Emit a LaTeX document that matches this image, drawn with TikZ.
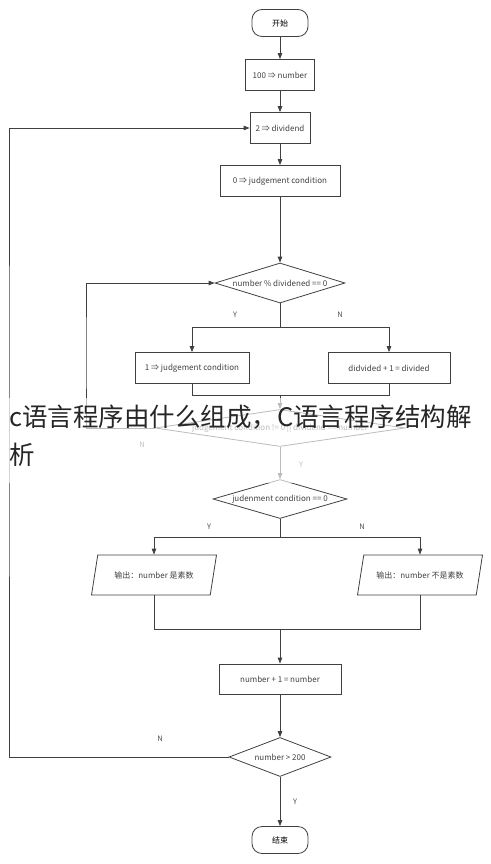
\documentclass[tikz,border=0pt]{standalone}
\usepackage{fontspec}
\setmainfont{Noto Sans CJK SC}
\usetikzlibrary{shapes.geometric,arrows.meta}

\begin{document}
\begin{tikzpicture}[x=1pt,y=-1pt,
    line/.style={draw=black!75,line width=0.8pt},
    arrow/.style={line,-{Triangle[length=6pt,width=4.5pt]}},
    term/.style={
        rectangle,rounded corners=10pt,draw=black!75,line width=0.8pt,
        minimum width=56pt,minimum height=27pt,
        font=\fontsize{8}{9}\selectfont
    },
    proc/.style={
        rectangle,draw=black!75,line width=0.8pt,
        minimum height=31pt,inner sep=2pt,
        font=\fontsize{8}{9}\selectfont,text=black!75
    },
    dec/.style={
        diamond,aspect=4,draw=black!75,line width=0.8pt,inner sep=0pt,
        minimum height=40pt,
        font=\fontsize{8}{9}\selectfont,text=black!75
    },
    io/.style={
        trapezium,trapezium left angle=66,trapezium right angle=114,
        trapezium stretches body,draw=black!75,line width=0.8pt,
        minimum width=125pt,minimum height=40pt,
        font=\fontsize{8}{9}\selectfont,text=black!75
    },
    lbl/.style={font=\fontsize{7.5}{9}\selectfont,text=black!70}
    ]
    \useasboundingbox (0,0) rectangle (490,864);

    \node [term] (start) at (280,23) {开始};
    \node [proc, minimum width=69pt] (init) at (280,75) {100 ⇒ number};
    \node [proc, minimum width=60pt] (div) at (280,128) {2 ⇒ dividend};
    \node [proc, minimum width=120pt] (judge) at (280,181) {0 ⇒ judgement condition};
    \node [dec, minimum width=130pt] (mod) at (280,283) {number \% dividened == 0};

    \node [proc, minimum width=114pt] (yes) at (192,368) {1 ⇒ judgement condition};
    \node [proc, minimum width=122pt] (next) at (389,368) {didvided + 1 = divided};

    \node [dec, aspect=7, minimum width=250pt, minimum height=37pt] (stop) at (280,428)
        {judgement condition != 0 || dividend == number};
    \node [dec, minimum width=134pt, minimum height=39pt] (prime) at (280,499) {judenment condition == 0};

    \node [io] (isp) at (154,575) {输出：number 是素数};
    \node [io] (notp) at (420,575) {输出：number 不是素数};

    \node [proc, minimum width=122pt, minimum height=30pt] (inc) at (280,679) {number + 1 = number};
    \node [dec, minimum width=102pt, minimum height=39pt] (test) at (280,757) {number > 200};
    \node [term] (fin) at (280,840) {结束};

    % forks, joins and loop corners
    \coordinate (modfork) at (280,327);
    \coordinate (modjoin) at (280,395);
    \coordinate (primefork) at (280,537);
    \coordinate (primejoin) at (280,629);
    \coordinate (loopin) at (86,350);
    \coordinate (loopout) at (9,400);

    \draw [arrow] (start) -- (init);
    \draw [arrow] (init) -- (div);
    \draw [arrow] (div) -- (judge);
    \draw [arrow] (judge) -- (mod);

    \draw [line] (mod.south) -- (modfork);
    \draw [arrow] (modfork) -| (yes.north);
    \draw [arrow] (modfork) -| (next.north);
    \draw [line] (yes.south) |- (modjoin);
    \draw [line] (next.south) |- (modjoin);
    \draw [arrow] (modjoin) -- (stop.north);

    \draw [arrow] (stop.west) -| (loopin) |- (mod.west);
    \draw [arrow] (stop) -- (prime);

    \draw [line] (prime.south) -- (primefork);
    \draw [arrow] (primefork) -| (isp.north);
    \draw [arrow] (primefork) -| (notp.north);
    \draw [line] (isp.south) |- (primejoin);
    \draw [line] (notp.south) |- (primejoin);
    \draw [arrow] (primejoin) -- (inc.north);

    \draw [arrow] (inc) -- (test);
    \draw [arrow] (test) -- (fin);
    \draw [arrow] (test.west) -| (loopout) |- (div.west);

    \node [lbl] (modY) at (235,315) {Y};
    \node [lbl] (modN) at (340,315) {N};
    \node [lbl] (stopN) at (142,445) {N};
    \node [lbl] (stopY) at (301,465) {Y};
    \node [lbl] (primeY) at (209,527) {Y};
    \node [lbl] (primeN) at (362,527) {N};
    \node [lbl] (testN) at (160,739) {N};
    \node [lbl] (testY) at (295,802) {Y};

    % title laid over the picture
    \fill [white, opacity=0.65] (4,398) rectangle (486,483);
    \node [anchor=north west, align=left, inner sep=0pt, text=black!85,
           font=\fontsize{25.5}{38}\selectfont] (title) at (9,405)
        {c语言程序由什么组成，C语言程序结构解\\析};
\end{tikzpicture}
\end{document}
